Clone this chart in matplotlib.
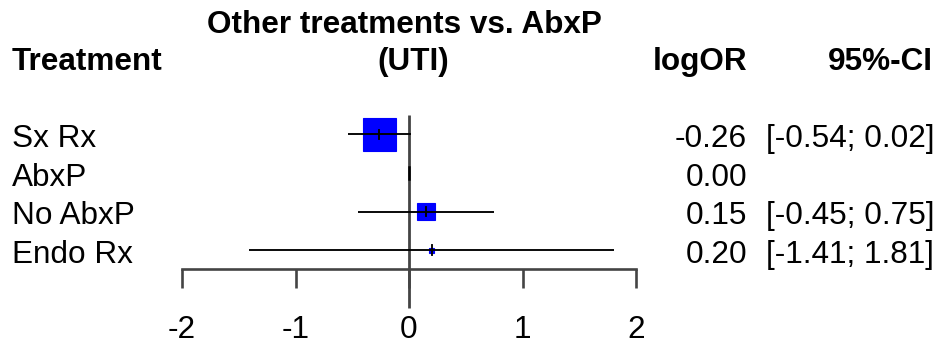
import matplotlib
matplotlib.use('Agg')
import matplotlib.pyplot as plt
from matplotlib.patches import Rectangle
from matplotlib.transforms import blended_transform_factory

# ---- data ----
treatments = ['Sx Rx', 'AbxP', 'No AbxP', 'Endo Rx']
logOR = [-0.26, 0.00, 0.15, 0.20]
ci_low = [-0.54, None, -0.45, -1.41]
ci_high = [0.02, None, 0.75, 1.81]
logOR_text = ['-0.26', '0.00', '0.15', '0.20']
ci_text = ['[-0.54; 0.02]', '', '[-0.45; 0.75]', '[-1.41; 1.81]']
box_side = [0.29, 0.0, 0.155, 0.045]   # square side (weight), logOR units
ticks = [-2, -1, 0, 1, 2]
tick_labels = ['-2', '-1', '0', '1', '2']
title_lines = ['Other treatments vs. AbxP', '(UTI)']
headers = ['Treatment', 'logOR', '95%-CI']

W, H = 942, 349
fig = plt.figure(figsize=(W / 100, H / 100), dpi=100)
ax = fig.add_axes([0, 0, 1, 1])
ax.axis('off')

# scales: x0 pixel of logOR=0, px per unit; row 0 pixel, px per row
x0, xs = 409.0, 113.5
y0, ys = 134.3, 38.6
ax.set_xlim(-x0 / xs, (W - x0) / xs)
ax.set_ylim((H - y0) / ys, -y0 / ys)

FS = 22.7
FONT = 'Liberation Sans'
tr = blended_transform_factory(ax.transAxes, ax.transData)
AXC = '#444444'

# reference line
ax.plot([0, 0], [-0.5, 4.5], color=AXC, lw=2.0, solid_capstyle='butt', zorder=1)

# bottom axis
ax.plot([ticks[0], ticks[-1]], [3.5, 3.5], color=AXC, lw=1.9, solid_capstyle='projecting', zorder=1)
for t, lab in zip(ticks, tick_labels):
    ax.plot([t, t], [3.5, 3.98], color=AXC, lw=1.9, solid_capstyle='butt', zorder=1)
    ax.text(t, 5.277, lab, ha='center', va='baseline', fontsize=FS, family=FONT)

hratio = xs / ys
for i, (est, lo, hi, s) in enumerate(zip(logOR, ci_low, ci_high, box_side)):
    if s > 0:
        h = s * hratio
        ax.add_patch(Rectangle((est - s / 2, i - h / 2), s, h, facecolor='#0000ff',
                               edgecolor='#0000ff', lw=0.8, zorder=2))
    if lo is not None:
        ax.plot([lo, hi], [i, i], color='black', lw=1.35, zorder=3, solid_capstyle='butt')
        ax.plot([est, est], [i - 0.12, i + 0.12], color='black', lw=1.35, zorder=3)
    else:
        ax.plot([est, est], [i - 0.15, i + 0.15], color='black', lw=1.8, zorder=3)

    base = i + 0.33
    ax.text(12 / W, base, treatments[i], transform=tr, ha='left', va='baseline',
            fontsize=FS, family=FONT)
    ax.text(747 / W, base, logOR_text[i], transform=tr, ha='right', va='baseline',
            fontsize=FS, family=FONT)
    if ci_text[i]:
        ax.text(934 / W, base, ci_text[i], transform=tr, ha='right', va='baseline',
                fontsize=FS, family=FONT)

# headers
hb = -1.666
ax.text(12 / W, hb, headers[0], transform=tr, ha='left', va='baseline',
        fontsize=FS, family=FONT, fontweight='bold')
ax.text(747 / W, hb, headers[1], transform=tr, ha='right', va='baseline',
        fontsize=FS, family=FONT, fontweight='bold')
ax.text(933 / W, hb, headers[2], transform=tr, ha='right', va='baseline',
        fontsize=FS, family=FONT, fontweight='bold')
ax.text(404.5 / W, -2.637, title_lines[0], transform=tr, ha='center', va='baseline',
        fontsize=FS, family=FONT, fontweight='bold')
ax.text(413 / W, hb, title_lines[1], transform=tr, ha='center', va='baseline',
        fontsize=FS, family=FONT, fontweight='bold')

fig.savefig('out.png', dpi=100, facecolor='white')
